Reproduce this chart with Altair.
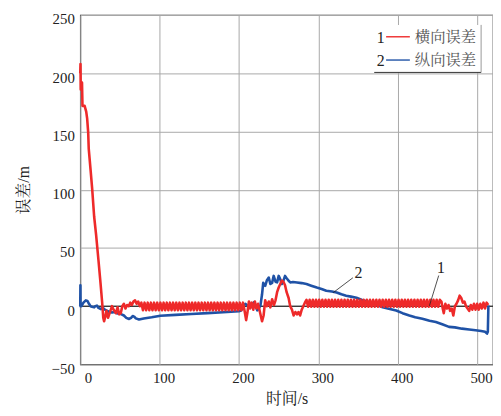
import altair as alt
import pandas as pd

# ---- data ----
# curve 1: 横向误差 (red)
lat_start = [(0, 200), (0.3, 208), (0.6, 186), (1.5, 186), (2.2, 192), (2.8, 172), (5.5, 172),
             (7.5, 167), (8.7, 161), (10, 149), (10.7, 135), (13, 117), (15, 101), (17.5, 77),
             (20, 61), (23, 39), (25.5, 20), (27.5, 4), (29, -10), (30, -13), (31.5, -9), (33, -4),
             (35, -10), (37, -6), (40, 0), (42, -3), (45, -6), (47, -1), (49, -7), (51, -6),
             (53, 0), (55, 2), (57, -2), (59, 1), (61, 0), (63, 3), (65, 1), (67, 4), (69, 5),
             (71, 2), (73, 4), (75, 0)]
lat_osc_a = [(77, 3), (79, -3.5), (81, 3), (83, -3.5), (85, 3), (87, -3.5), (89, 3), (91, -3.5),
             (93, 3), (95, -3.5), (97, 3), (99, -3.5), (101, 3), (103, -3.5), (105, 3), (107, -3.5),
             (109, 3), (111, -3.5), (113, 3), (115, -3.5), (117, 3), (119, -3.5), (121, 3), (123, -3.5),
             (125, 3), (127, -3.5), (129, 3), (131, -3.5), (133, 3), (135, -3.5), (137, 3), (139, -3.5),
             (141, 3), (143, -3.5), (145, 3), (147, -3.5), (149, 3), (151, -3.5), (153, 3), (155, -3.5),
             (157, 3), (159, -3.5), (161, 3), (163, -3.5), (165, 3), (167, -3.5), (169, 3), (171, -3.5),
             (173, 3), (175, -3.5), (177, 3), (179, -3.5), (181, 3), (183, -3.5), (185, 3), (187, -3.5),
             (189, 3), (191, -3.5), (193, 3), (195, -3.5), (197, 3), (199, -3.5), (201, 3), (203, -3.5)]
lat_mid = [(205, 3), (207, -4), (209, -12), (210.5, -6), (212.5, 4), (214, -2), (216, 3), (218, -3),
           (220, 4), (222, -2), (224, 2), (226, -4), (229, -13), (231, -8), (233, 5), (235, 0),
           (237.5, 4), (239.5, -1), (241.7, 6), (244, 1), (246, 5), (248, 12), (250, 16), (252, 19),
           (254, 22), (256, 21), (258, 18), (260, 12), (262.5, 7), (264.5, 0), (266.7, -3),
           (268.8, -8), (271, -5), (273, -7), (275, -5), (277, -8), (279, -3), (281, 0), (283, 3)]
lat_osc_b = [(285, 5.5), (287, -0.5), (289, 5.5), (291, -0.5), (293, 5.5), (295, -0.5), (297, 5.5),
             (299, -0.5), (301, 5.5), (303, -0.5), (305, 5.5), (307, -0.5), (309, 5.5), (311, -0.5),
             (313, 5.5), (315, -0.5), (317, 5.5), (319, -0.5), (321, 5.5), (323, -0.5), (325, 5.5),
             (327, -0.5), (329, 5.5), (331, -0.5), (333, 5.5), (335, -0.5), (337, 5.5), (339, -0.5),
             (341, 5.5), (343, -0.5), (345, 5.5), (347, -0.5), (349, 5.5), (351, -0.5), (353, 5.5),
             (355, -0.5), (357, 5.5), (359, -0.5), (361, 5.5), (363, -0.5), (365, 5.5), (367, -0.5),
             (369, 5.5), (371, -0.5), (373, 5.5), (375, -0.5), (377, 5.5), (379, -0.5), (381, 5.5),
             (383, -0.5), (385, 5.5), (387, -0.5), (389, 5.5), (391, -0.5), (393, 5.5), (395, -0.5),
             (397, 5.5), (399, -0.5), (401, 5.5), (403, -0.5), (405, 5.5), (407, -0.5), (409, 5.5),
             (411, -0.5), (413, 5.5), (415, -0.5), (417, 5.5), (419, -0.5), (421, 5.5), (423, -0.5),
             (425, 5.5), (427, -0.5), (429, 5.5), (431, -0.5), (433, 5.5), (435, -0.5), (437, 5.5),
             (439, -0.5), (441, 5.5), (443, -0.5), (445, 5.5), (447, -0.5), (449, 5.5), (451, -0.5),
             (453, 5.5)]
lat_end = [(455, 4), (457, -3), (458, -6), (460, 2), (462, -2), (464, 1), (466, -4), (468, -2),
           (470, -8), (472, 0), (474, 2), (476, 5), (478, 9), (480, 7), (482, 3), (484, 4), (486, 0),
           (488, -2), (490, -4), (492, 1), (494, -3), (496, 2), (498, -3), (500, 2), (502, -3),
           (504, 2), (506, -2), (508, 3), (510, -2), (512, 3), (514, 1)]

# curve 2: 纵向误差 (blue)
lon_points = [(0, 0), (0.2, 18), (0.4, 0), (1.5, 0), (4, 3), (7, 5), (9, 4.5), (11, 2), (13, 0),
              (15, -0.5), (17.5, -1), (19, 0), (21, 0.5), (23, -1.5), (26, -2.5), (28, -1), (31, -3),
              (34, -4), (37, -5), (40, -5.5), (43, -5), (46, -6), (49, -6.5), (52, -7), (55, -8),
              (58, -10), (61.5, -11), (64, -10), (66, -8.5), (68, -9), (70, -10.5), (74, -11.5),
              (80, -10.5), (90, -9.5), (101, -8.2), (120, -7.5), (140, -6.8), (160, -6), (180, -5.2),
              (200, -4.3), (203, -3.5), (206, 0.6), (208, 2), (210, 1), (212, -1), (214.6, -0.8),
              (217, 2), (219, 3.4), (221, 0), (223, -3.6), (225, -2), (227, 0.6), (229, 10),
              (230.5, 20), (233, 17.5), (235, 22), (237.5, 24.6), (239.5, 19), (241.7, 20),
              (243.7, 26), (246, 21), (248, 20.4), (250, 26), (252, 23), (254, 19), (256, 22),
              (258, 26), (260, 24), (262.5, 21.8), (264.6, 20.4), (268, 20.8), (273, 20.4),
              (279, 19.8), (285, 19), (291, 17.6), (298, 16), (304, 14.8), (310, 13.3), (317, 12.6),
              (323, 11.8), (329, 10.2), (335, 9), (341, 8.2), (348, 7.2), (355, 5.4), (360, 4.2),
              (365, 3.4), (372, 1.6), (381, -0.9), (390, -2.4), (398, -3.7), (406, -6), (414.6, -8),
              (422, -9.5), (431, -10.8), (440, -12.5), (448, -13.6), (456, -15.5), (464.6, -17.8),
              (472, -18.2), (481, -19.3), (490, -20), (498, -20.7), (505, -21.4), (510, -22),
              (512.5, -23.5), (513.5, -22), (514.2, 0.5)]

x_ticks = [0, 100, 200, 300, 400, 500]
y_ticks = [-50, 0, 50, 100, 150, 200, 250]
legend_names = ["横向误差", "纵向误差"]
legend_nums = ["1", "2"]

# annotation callouts (data coordinates)
call_text = [(350.6, 28.6, "2"), (454.5, 32.9, "1")]
call_lines = [[(343.5, 24.4), (318.6, 11.6)], [(451.6, 26.3), (439.9, 0.3)]]

RED = "#ee2a2a"
BLUE = "#1f52a6"
FONT = "'Liberation Serif', 'Noto Serif CJK SC', 'Noto Sans CJK SC', serif"

lat_all = lat_start + lat_osc_a + lat_mid + lat_osc_b + lat_end
df_lat = pd.DataFrame(lat_all, columns=["t", "v"])
df_lat["i"] = range(len(df_lat))
df_lon = pd.DataFrame(lon_points, columns=["t", "v"])
df_lon["i"] = range(len(df_lon))

W, H = 417, 353
xs = alt.Scale(domain=[0, 520], nice=False, zero=False)
ys = alt.Scale(domain=[-50, 250], nice=False, zero=False)

x_enc = alt.X("t:Q", scale=xs, axis=alt.Axis(values=x_ticks, title="时间/s", labelOffset=4,
                                              labelPadding=6, titlePadding=6))
y_enc = alt.Y("v:Q", scale=ys, axis=alt.Axis(values=y_ticks, title="误差/m", labelOffset=4,
                                              labelPadding=6, titlePadding=20))

zero = alt.Chart(pd.DataFrame({"z": [0]})).mark_rule(color="black", strokeWidth=1).encode(
    y=alt.Y("z:Q", scale=ys))

line_lat = alt.Chart(df_lat).mark_line(color=RED, strokeWidth=2.6, strokeJoin="round").encode(
    x=x_enc, y=y_enc, order="i:Q")
line_lon = alt.Chart(df_lon).mark_line(color=BLUE, strokeWidth=2.6, strokeJoin="round").encode(
    x=x_enc, y=y_enc, order="i:Q")

rows = []
for k, seg in enumerate(call_lines):
    for j, (a, b) in enumerate(seg):
        rows.append({"g": k, "j": j, "t": a, "v": b})
df_cl = pd.DataFrame(rows)
callout_lines = alt.Chart(df_cl).mark_line(color="#222", strokeWidth=0.8).encode(
    x=alt.X("t:Q", scale=xs), y=alt.Y("v:Q", scale=ys), detail="g:N", order="j:Q")
df_ct = pd.DataFrame(call_text, columns=["t", "v", "s"])
callout_text = alt.Chart(df_ct).mark_text(font=FONT, fontSize=16, color="#222").encode(
    x=alt.X("t:Q", scale=xs), y=alt.Y("v:Q", scale=ys), text="s:N")

one = pd.DataFrame({"a": [0]})
leg_box = alt.Chart(one).mark_rect(color="white").encode(
    x=alt.value(297), x2=alt.value(405), y=alt.value(10), y2=alt.value(58))
leg_bottom = alt.Chart(one).mark_rule(color="#333", strokeWidth=1).encode(
    x=alt.value(297), x2=alt.value(405), y=alt.value(58))
leg_right = alt.Chart(one).mark_rule(color="#999", strokeWidth=1).encode(
    x=alt.value(405), y=alt.value(10), y2=alt.value(58))

leg_layers = []
for k, (col, yy) in enumerate([(RED, 22), (BLUE, 45.5)]):
    leg_layers.append(alt.Chart(one).mark_rule(color=col, strokeWidth=1.4).encode(
        x=alt.value(309), x2=alt.value(333), y=alt.value(yy)))
    leg_layers.append(alt.Chart(one).mark_text(font=FONT, fontSize=16, color="#222",
                                                align="right", baseline="middle").encode(
        x=alt.value(307.5), y=alt.value(yy + 1), text=alt.value(legend_nums[k])))
    leg_layers.append(alt.Chart(one).mark_text(font=FONT, fontSize=15.5, color="#555",
                                                align="left", baseline="middle").encode(
        x=alt.value(338), y=alt.value(yy), text=alt.value(legend_names[k])))

chart = alt.layer(zero, line_lon, line_lat, callout_lines, callout_text,
                  leg_box, leg_bottom, leg_right, *leg_layers).properties(
    width=W, height=H,
    autosize=alt.AutoSizeParams(type="none"),
    padding={"left": 73, "top": 5, "right": 0, "bottom": 45},
).configure_view(stroke="#222", strokeWidth=1.2).configure_axis(
    grid=True, gridColor="#a8a8a8", gridWidth=1, domain=False, ticks=False,
    labelFont=FONT, labelFontSize=15, labelColor="#222",
    titleFont=FONT, titleFontSize=16, titleFontWeight="normal", titleColor="#222",
)

chart.save("out.html", embed_options={"renderer": "svg", "actions": False})
